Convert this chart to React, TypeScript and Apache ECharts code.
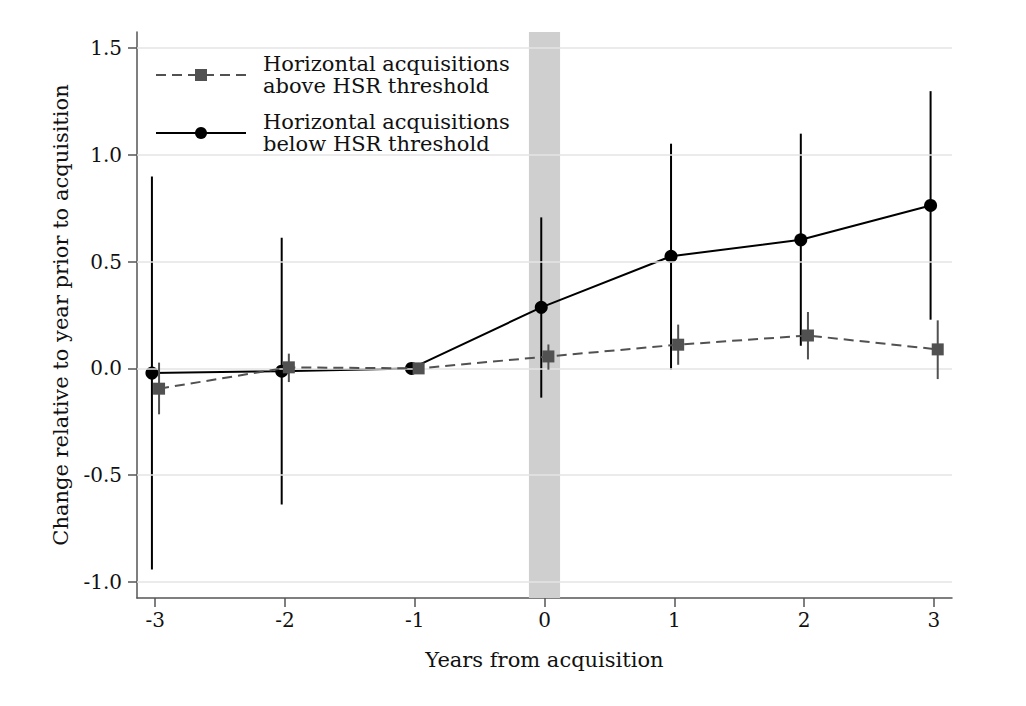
import { useEffect, useRef } from 'react';
import * as echarts from 'echarts';

// years relative to acquisition
const years = [-3, -2, -1, 0, 1, 2, 3];

// horizontal acquisitions above HSR threshold (point, lower CI, upper CI)
const aboveEst = [-0.095, 0.005, 0, 0.056, 0.111, 0.154, 0.089];
const aboveLow = [-0.215, -0.064, 0, -0.006, 0.017, 0.042, -0.05];
const aboveHigh = [0.027, 0.069, 0, 0.112, 0.205, 0.264, 0.225];

// horizontal acquisitions below HSR threshold
const belowEst = [-0.022, -0.013, 0, 0.286, 0.525, 0.602, 0.763];
const belowLow = [-0.941, -0.637, 0, -0.137, -0.006, 0.106, 0.228];
const belowHigh = [0.899, 0.612, 0, 0.707, 1.052, 1.099, 1.298];

const yTicks = [-1.0, -0.5, 0.0, 0.5, 1.0, 1.5];
const xTicks = [-3, -2, -1, 0, 1, 2, 3];
const bandRange = [-0.12, 0.12];

const aboveName = 'Horizontal acquisitions\nabove HSR threshold';
const belowName = 'Horizontal acquisitions\nbelow HSR threshold';

const FONT = '"DejaVu Serif", serif';
const GRAY = '#515151';

const errorBars = (xs: number[], lo: number[], hi: number[], shift: number) =>
  xs
    .map((x, i) => [x + shift, lo[i], hi[i]])
    .filter(d => d[1] !== d[2]);

const makeBarSeries = (name: string, data: number[][], color: string, z: number) => ({
  type: 'custom' as const,
  name,
  z,
  silent: true,
  encode: { x: 0, y: [1, 2] },
  data,
  renderItem: (_params: any, api: any) => {
    const p1 = api.coord([api.value(0), api.value(1)]);
    const p2 = api.coord([api.value(0), api.value(2)]);
    return {
      type: 'line',
      shape: { x1: p1[0], y1: p1[1], x2: p2[0], y2: p2[1] },
      style: { stroke: color, lineWidth: 2 }
    };
  }
});

const App = () => {
  const chartRef = useRef<HTMLDivElement>(null);

  useEffect(() => {
    if (!chartRef.current) return;
    const chart = echarts.init(chartRef.current, null, { renderer: 'svg' });

    const option: any = {
      animation: false,
      backgroundColor: '#ffffff',
      textStyle: { fontFamily: FONT },
      grid: { left: 137, right: 74, top: 32, bottom: 108 },
      legend: {
        left: 150,
        top: 48,
        orient: 'vertical',
        itemWidth: 90,
        itemHeight: 15,
        itemGap: 14,
        selectedMode: false,
        data: [aboveName, belowName],
        textStyle: {
          fontFamily: FONT,
          fontSize: 21,
          lineHeight: 22,
          color: '#111',
          padding: [0, 0, 0, 12]
        }
      },
      xAxis: {
        type: 'value',
        min: -3.14,
        max: 3.14,
        name: 'Years from acquisition',
        nameLocation: 'middle',
        nameGap: 51,
        nameTextStyle: { fontFamily: FONT, fontSize: 21, color: '#111' },
        axisLine: { show: true, onZero: false, lineStyle: { color: '#555', width: 1.5 } },
        axisTick: {
          show: true,
          length: 9,
          customValues: xTicks,
          lineStyle: { color: '#555', width: 1.5 }
        },
        axisLabel: {
          customValues: xTicks,
          fontFamily: FONT,
          fontSize: 20,
          color: '#111',
          margin: 12,
          formatter: (v: number) => String(v)
        },
        splitLine: { show: false }
      },
      yAxis: {
        type: 'value',
        min: -1.075,
        max: 1.575,
        name: 'Change relative to year prior to acquisition',
        nameLocation: 'middle',
        nameGap: 66,
        nameTextStyle: { fontFamily: FONT, fontSize: 21, color: '#111' },
        axisLine: { show: true, onZero: false, lineStyle: { color: '#555', width: 1.5 } },
        axisTick: {
          show: true,
          length: 9,
          customValues: yTicks,
          lineStyle: { color: '#555', width: 1.5 }
        },
        axisLabel: {
          customValues: yTicks,
          fontFamily: FONT,
          fontSize: 20,
          color: '#111',
          margin: 15,
          formatter: (v: number) => v.toFixed(1)
        },
        splitLine: { show: false }
      },
      series: [
        {
          type: 'line',
          name: 'band',
          data: [],
          z: 1,
          silent: true,
          markArea: {
            silent: true,
            itemStyle: { color: '#cfcfcf' },
            data: [[{ xAxis: bandRange[0] }, { xAxis: bandRange[1] }]]
          }
        },
        {
          type: 'line',
          name: 'grid',
          data: [],
          z: 2,
          silent: true,
          markLine: {
            silent: true,
            symbol: 'none',
            label: { show: false },
            lineStyle: { color: '#e4e4e4', width: 1.5, type: 'solid' },
            data: yTicks.map(v => ({ yAxis: v }))
          }
        },
        makeBarSeries('belowCI', errorBars(years, belowLow, belowHigh, -0.025), '#000', 3),
        {
          type: 'line',
          name: belowName,
          z: 4,
          data: years.map((x, i) => [x - 0.025, belowEst[i]]),
          symbol: 'circle',
          symbolSize: 13,
          showSymbol: true,
          itemStyle: { color: '#000' },
          lineStyle: { color: '#000', width: 2 }
        },
        makeBarSeries('aboveCI', errorBars(years, aboveLow, aboveHigh, 0.03), GRAY, 5),
        {
          type: 'line',
          name: aboveName,
          z: 6,
          data: years.map((x, i) => [x + 0.03, aboveEst[i]]),
          symbol: 'rect',
          symbolSize: 12,
          showSymbol: true,
          itemStyle: { color: GRAY },
          lineStyle: { color: GRAY, width: 2, type: [10, 6] }
        }
      ]
    };

    chart.setOption(option);
    return () => chart.dispose();
  }, []);

  return (
    <div
      ref={chartRef}
      style={{ position: 'absolute', left: 0, top: 0, width: '1026px', height: '706px' }}
    />
  );
};

export default App;
